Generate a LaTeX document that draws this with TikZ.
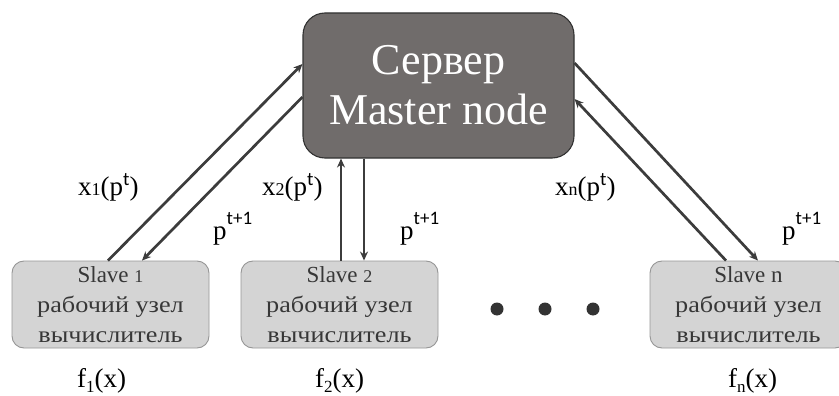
\documentclass[tikz,border=0pt]{standalone}
\usepackage{fontspec}
\usepackage{graphicx}
\setmainfont{Liberation Serif}
\newfontfamily\supfont{Carlito}
\usetikzlibrary{arrows.meta}
\definecolor{srvfill}{RGB}{112,108,107}
\definecolor{srvdraw}{RGB}{50,50,50}
\definecolor{slvfill}{RGB}{212,212,212}
\definecolor{slvdraw}{RGB}{150,150,150}
\definecolor{slvtext}{RGB}{55,55,55}
\definecolor{linec}{RGB}{60,60,60}
\newcommand\supt[2]{\raisebox{#1}{\supfont\fontsize{19}{19}\selectfont #2}}
\newcommand\smdg[1]{{\fontsize{18}{18}\selectfont #1}}
\newcommand\lowdg[1]{\raisebox{-5pt}{\fontsize{17}{17}\selectfont #1}}
\newcommand\wide[1]{\scalebox{1.14}[1]{#1}}
\begin{document}
\begin{tikzpicture}[x=1pt,y=-1pt,
  srv/.style={draw=srvdraw,line width=1.1pt,fill=srvfill,rounded corners=22pt,
    minimum width=271pt,minimum height=145pt,inner sep=0pt,align=center,
    text=white,font=\fontsize{44}{50}\selectfont},
  slave/.style={draw=slvdraw,line width=0.9pt,fill=slvfill,rounded corners=12pt,
    minimum width=197pt,minimum height=87pt,inner sep=0pt,align=center,
    text=slvtext,font=\fontsize{23}{30}\selectfont},
  lab/.style={inner sep=0pt,anchor=base west,font=\fontsize{27}{27}\selectfont},
  conn/.style={draw=linec,line width=2.7pt,-{Stealth[length=9pt,width=8pt]}},
  dotn/.style={circle,fill=black!80,minimum size=13pt,inner sep=0pt}]
\useasboundingbox (0,0) rectangle (839,396);
\node[srv] (srv) at (438.5,85.5) {Сервер\\Master node};
\node[slave] (s1) at (110.5,304.5) {Slave \smdg{1}\\\wide{рабочий узел}\\\wide{вычислитель}};
\node[slave] (s2) at (339.5,304.5) {Slave \smdg{2}\\\wide{рабочий узел}\\\wide{вычислитель}};
\node[slave] (sn) at (748.5,304.5) {Slave n\\\wide{рабочий узел}\\\wide{вычислитель}};
\node[dotn] (d1) at (497,309) {};
\node[dotn] (d2) at (545,309) {};
\node[dotn] (d3) at (593,309) {};
\draw[conn] ([xshift=-2.5pt]s1.north) -- ([yshift=21.5pt]srv.west);
\draw[conn] ([yshift=-11.5pt]srv.west) -- ([xshift=31.5pt]s1.north);
\draw[conn] ([xshift=1.5pt]s2.north) -- ([xshift=-97.5pt]srv.south);
\draw[conn] ([xshift=-74.5pt]srv.south) -- ([xshift=24.5pt]s2.north);
\draw[conn] ([yshift=22.5pt]srv.east) -- ([xshift=9.5pt]sn.north);
\draw[conn] ([xshift=-22.5pt]sn.north) -- ([yshift=-13.5pt]srv.east);
\node[lab] (x1) at (78,195) {x\smdg{1}(p\supt{10pt}{t})};
\node[lab] (x2) at (262,195) {x\smdg{2}(p\supt{10pt}{t})};
\node[lab] (xn) at (555,195) {x\smdg{n}(p\supt{10pt}{t})};
\node[lab] (p1) at (213,239) {p\supt{15pt}{t+1}};
\node[lab] (p2) at (400,239) {p\supt{15pt}{t+1}};
\node[lab] (pn) at (782,239) {p\supt{15pt}{t+1}};
\node[lab] (f1) at (77,387) {f\lowdg{1}(x)};
\node[lab] (f2) at (315,387) {f\lowdg{2}(x)};
\node[lab] (fn) at (728,387) {f\lowdg{n}(x)};
\end{tikzpicture}
\end{document}
